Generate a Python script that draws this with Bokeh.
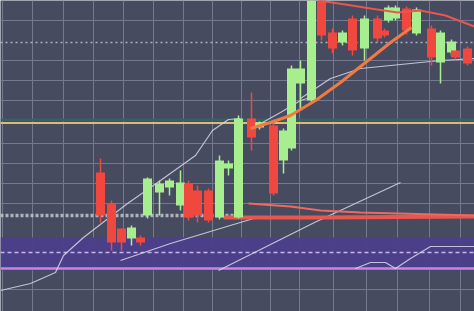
from bokeh.plotting import figure
from bokeh.models import Range1d, FixedTicker, Grid, BoxAnnotation, ColumnDataSource
from bokeh.embed import file_html
from bokeh.resources import INLINE

# ---- candle data (time index, OHLC in price units) ----
t     = [100, 111, 121, 131, 140, 147, 159, 169, 180, 188, 197, 208, 219, 228, 238, 251, 259, 273, 283,
         291, 300, 311, 321, 332, 342, 352, 364, 377, 384, 388, 395, 406, 416, 431, 440, 451, 455, 467]
open_ = [139, 108, 83, 73, 74, 96, 119, 124, 106, 128, 121, 121, 94, 143, 94, 193, 184, 186, 151,
         163, 228, 211, 311, 279, 269, 293, 263, 293, 281, 291, 293, 303, 278, 283, 249, 259, 261, 263]
close = [96, 69, 69, 84, 69, 133, 128, 131, 129, 94, 96, 91, 151, 148, 193, 174, 189, 118, 181,
         243, 243, 311, 276, 263, 279, 261, 293, 273, 276, 304, 304, 281, 302, 254, 279, 270, 254, 248]
high  = [153, 111, 83, 86, 76, 134, 131, 133, 141, 131, 126, 123, 156, 151, 196, 219, 190, 191, 183,
         246, 251, 311, 311, 283, 281, 296, 296, 296, 283, 306, 306, 305, 304, 286, 281, 272, 263, 265]
low   = [89, 61, 61, 66, 66, 93, 96, 116, 101, 91, 89, 89, 92, 136, 93, 161, 182, 116, 138,
         161, 201, 209, 271, 258, 266, 256, 251, 269, 274, 289, 291, 277, 276, 246, 228, 256, 252, 246]

# ---- indicator lines ----
ma_orange_t = [250, 270, 290, 315, 340, 365, 390, 411]
ma_orange_v = [183, 189, 196, 211, 229, 249, 269, 284]
ma_red1_t = [248, 290, 320, 360, 474]
ma_red1_v = [108, 105, 101, 99, 96]
ma_red2_t = [223, 280, 320, 474]
ma_red2_v = [94, 94, 94, 95]
ma_red3_t = [318, 345, 370, 397, 420, 445, 474]
ma_red3_v = [311, 307, 303, 299, 301, 296, 285]
trend_a_t = [0, 30, 55, 63, 83, 127, 160, 195, 212, 228, 240]
trend_a_v = [21, 28, 39, 56, 74, 108, 131, 156, 181, 192, 193]
trend_c_t = [120, 170, 253]
trend_c_v = [51, 68, 93]
trend_d_t = [218, 314, 400]
trend_d_v = [41, 89, 129]
trend_e_t = [300, 330, 360, 400, 440, 474]
trend_e_v = [213, 233, 243, 247, 251, 253]
trend_f_t = [262, 280, 300, 310]
trend_f_v = [189, 199, 211, 214]
osc_t = [355, 370, 385, 395, 410, 430, 474]
osc_v = [43, 49, 49, 43, 53, 65, 65]

# ---- levels ----
vgrid = [2, 32, 63, 93, 123, 153, 183, 212, 241, 270, 299, 333, 366, 397, 429, 460]
hgrid = [311, 291, 251, 231, 211, 168, 148, 128, 108, 22]
dotted_level = 269
teal_level = 191.5
gold_level = 188.5
grey_level = 96
grey_level_end = 240
band_low, band_high = 41, 74
band_line_a = 59
band_line_b = 43

BG = "#464b60"
p = figure(width=474, height=311, x_range=Range1d(0, 474), y_range=Range1d(0, 311),
           x_axis_type=None, y_axis_type=None, toolbar_location=None, output_backend="svg",
           min_border=0, background_fill_color=BG, border_fill_color=BG, outline_line_color=None)

p.add_layout(Grid(dimension=0, ticker=FixedTicker(ticks=vgrid), grid_line_color="#737990", grid_line_width=1))
p.add_layout(Grid(dimension=1, ticker=FixedTicker(ticks=hgrid), grid_line_color="#737990", grid_line_width=1))

p.add_layout(BoxAnnotation(bottom=band_low, top=band_high, fill_color="#4c3e8c", fill_alpha=0.95, line_color=None, level="underlay"))

p.line([0, 474], [dotted_level, dotted_level], line_color="#c8cbe0", line_width=1.5, line_dash="2 3", line_alpha=0.8)
p.line([0, 474], [teal_level, teal_level], line_color="#2f6468", line_width=2.5)
p.line([0, 474], [gold_level, gold_level], line_color="#e4b86e", line_width=2)
p.line([0, grey_level_end], [grey_level, grey_level], line_color="#c9cad6", line_width=3.5, line_dash="3 2", line_alpha=0.8)
p.line([0, 474], [band_line_a, band_line_a], line_color="#c9b6f0", line_width=1.5, line_dash="4 3")
p.line([0, 474], [band_line_b, band_line_b], line_color="#c987dc", line_width=2.5)

for xs, ys in [(trend_a_t, trend_a_v), (trend_c_t, trend_c_v), (trend_d_t, trend_d_v),
               (trend_e_t, trend_e_v), (trend_f_t, trend_f_v), (osc_t, osc_v)]:
    p.line(xs, ys, line_color="#d8d8e6", line_width=1.2, line_alpha=0.85)

p.line(ma_red2_t, ma_red2_v, line_color="#e8564e", line_width=4)
p.line(ma_red1_t, ma_red1_v, line_color="#ee6a5c", line_width=2)

up_c, dn_c = "#a6ee8e", "#f0483f"
colors = [up_c if c >= o else dn_c for o, c in zip(open_, close)]
src = ColumnDataSource(dict(t=t, open=open_, close=close, high=high, low=low,
                            top=[max(o, c) for o, c in zip(open_, close)],
                            bottom=[min(o, c) for o, c in zip(open_, close)],
                            color=colors))
p.segment(x0="t", y0="low", x1="t", y1="high", source=src, line_color="color", line_width=1.5)
p.vbar(x="t", top="top", bottom="bottom", width=9, source=src, fill_color="color", line_color=None)

p.line(ma_orange_t, ma_orange_v, line_color="#f07a42", line_width=3)
p.line(ma_red3_t, ma_red3_v, line_color="#e8564e", line_width=2)

open("out.html", "w").write(file_html(p, INLINE))
